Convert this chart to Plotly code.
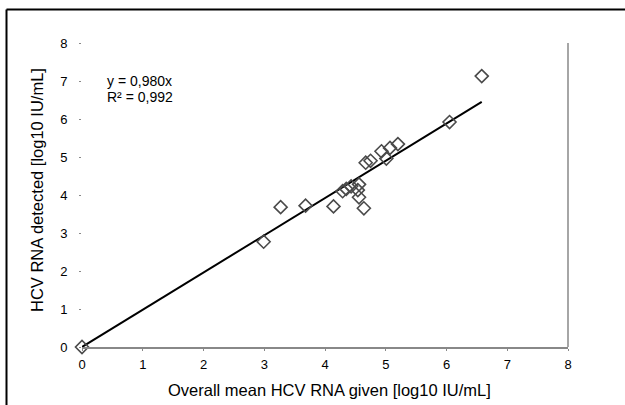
import plotly.graph_objects as go

# Data
given_log10 = [0.00, 2.99, 3.27, 3.68, 4.14, 4.29, 4.35, 4.43, 4.56, 4.54, 4.56, 4.64,
               4.67, 4.75, 4.93, 5.01, 5.07, 5.20, 6.05, 6.58]
detected_log10 = [0.00, 2.77, 3.68, 3.72, 3.70, 4.10, 4.16, 4.23, 4.28, 4.13, 3.94, 3.65,
                  4.85, 4.90, 5.15, 4.96, 5.24, 5.34, 5.92, 7.13]
slope = 0.980
r_squared = "0,992"
tick_vals = [0, 1, 2, 3, 4, 5, 6, 7, 8]

W, H = 625, 405
L, R, T, B = 82, 57, 43, 58
PW, PH = W - L - R, H - T - B


def px(x):
    return (x - L) / PW


def py(y):
    return (H - B - y) / PH


FONT = "Liberation Sans, Arial, sans-serif"

fig = go.Figure()

x_max = max(given_log10)
fig.add_trace(go.Scatter(
    x=[0, x_max], y=[0, slope * x_max], mode="lines",
    line=dict(color="black", width=2), hoverinfo="skip", showlegend=False))

fig.add_trace(go.Scatter(
    x=given_log10, y=detected_log10, mode="markers",
    marker=dict(symbol="diamond-open", size=10, color="#4a4a4a",
                line=dict(width=1.6, color="#4a4a4a")),
    cliponaxis=False, showlegend=False))

axis_common = dict(range=[0, 8], tickvals=tick_vals, showgrid=False, zeroline=False,
                   ticks="outside", ticklen=2, tickcolor="#888", tickwidth=1,
                   tickfont=dict(family=FONT, size=13, color="black"))

fig.update_xaxes(**axis_common, showline=True, linecolor="#888", linewidth=1.5,
                 ticklabelstandoff=3)
fig.update_yaxes(**axis_common, showline=False, ticklabelstandoff=9)

shapes = [
    # right plot border
    dict(type="line", xref="paper", yref="paper", x0=1, x1=1, y0=0, y1=1,
         line=dict(color="#888", width=1.5)),
    # outer frame (left and top)
    dict(type="line", xref="paper", yref="paper", x0=px(6.5), x1=px(6.5), y0=py(9.5), y1=py(410),
         line=dict(color="black", width=2)),
    dict(type="line", xref="paper", yref="paper", x0=px(6.5), x1=px(630), y0=py(9.5), y1=py(9.5),
         line=dict(color="black", width=2)),
]

annotations = [
    dict(text="Overall mean HCV RNA given [log10 IU/mL]", xref="paper", yref="paper",
         x=px(329), y=py(390), showarrow=False, xanchor="center", yanchor="middle",
         font=dict(family=FONT, size=16.5, color="black")),
    dict(text="HCV RNA detected [log10 IU/mL]", xref="paper", yref="paper",
         x=px(37), y=py(190), showarrow=False, xanchor="center", yanchor="middle",
         textangle=-90, font=dict(family=FONT, size=16.5, color="black")),
    dict(text=f"y = {slope:.3f}x".replace(".", ","), xref="paper", yref="paper",
         x=px(105), y=py(81), showarrow=False, xanchor="left", yanchor="middle",
         font=dict(family=FONT, size=14, color="black")),
    dict(text=f"R² = {r_squared}", xref="paper", yref="paper",
         x=px(105), y=py(97), showarrow=False, xanchor="left", yanchor="middle",
         font=dict(family=FONT, size=14, color="black")),
]

fig.update_layout(width=W, height=H, margin=dict(l=L, r=R, t=T, b=B, autoexpand=False),
                  paper_bgcolor="white", plot_bgcolor="white",
                  shapes=shapes, annotations=annotations, showlegend=False)

fig.write_html("out.html", config={"displayModeBar": False},
               post_script="document.body.style.margin='0';document.body.style.overflow='hidden';")
